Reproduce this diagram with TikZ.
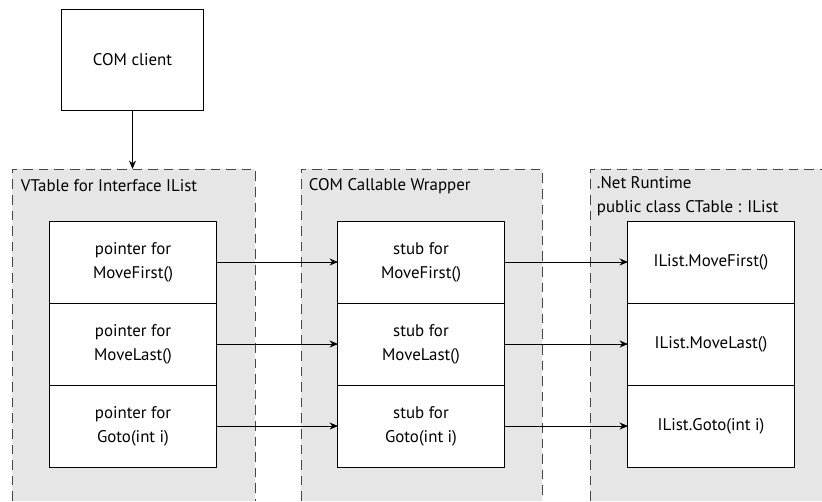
\documentclass[tikz,border=0pt]{standalone}
\usepackage{fontspec}
\setmainfont{PT Sans}
\usetikzlibrary{arrows.meta, positioning}
\definecolor{panel}{RGB}{230,230,230}
\definecolor{frame}{RGB}{70,70,70}

\begin{document}
\begin{tikzpicture}[x=0.025cm, y=-0.025cm]
        \tikzstyle{every node}+=[font=\fontsize{12}{17}\selectfont]
        \tikzstyle{cell}=[draw, fill=white, minimum width=4.15cm, minimum height=2.05cm, align=center, inner sep=0pt, outer sep=0pt, line width=0.7pt]
        \tikzstyle{region}=[draw=frame, line width=0.7pt, dash pattern=on 0.24cm off 0.15cm]
        \tikzstyle{link}=[-{Stealth[length=6pt,width=5pt]}, line width=0.6pt]
        \useasboundingbox (0,0) rectangle (822,501);
        \fill [panel] (12,169) rectangle (255,501);
        \fill [panel] (301,169) rectangle (542,501);
        \fill [panel] (590,169) rectangle (822,501);
        \draw [region] (12,501) -- (12,169) -- (255,169) -- (255,501);
        \draw [region] (301,501) -- (301,169) -- (542,169) -- (542,501);
        \draw [region] (590,501) -- (590,169) -- (822,169);
        \node [anchor=west] (vtlabel) at (16,186) {VTable for Interface IList};
        \node [anchor=west] (ccwlabel) at (304,186) {COM Callable Wrapper};
        \node [anchor=north west, align=left] (netlabel) at (592,172) {.Net Runtime\\public class CTable : IList};
        \node [cell, minimum width=3.525cm, minimum height=2.5cm] (client) at (132.5,60) {COM client};
        \coordinate (vtentry) at (132.5,169);
        \node [cell] (ptrfirst) at (133,262) {pointer for\\MoveFirst()};
        \node [cell, below=0pt of ptrfirst] (ptrlast) {pointer for\\MoveLast()};
        \node [cell, below=0pt of ptrlast] (ptrgoto) {pointer for\\Goto(int i)};
        \node [cell] (stubfirst) at (421,262) {stub for\\MoveFirst()};
        \node [cell, below=0pt of stubfirst] (stublast) {stub for\\MoveLast()};
        \node [cell, below=0pt of stublast] (stubgoto) {stub for\\Goto(int i)};
        \node [cell] (implfirst) at (711,262) {IList.MoveFirst()};
        \node [cell, below=0pt of implfirst] (impllast) {IList.MoveLast()};
        \node [cell, below=0pt of impllast] (implgoto) {IList.Goto(int i)};
        \draw [link] (client) -- (vtentry);
        \draw [link] (ptrfirst) -- (stubfirst);
        \draw [link] (ptrlast) -- (stublast);
        \draw [link] (ptrgoto) -- (stubgoto);
        \draw [link] (stubfirst) -- (implfirst);
        \draw [link] (stublast) -- (impllast);
        \draw [link] (stubgoto) -- (implgoto);
\end{tikzpicture}
\end{document}
